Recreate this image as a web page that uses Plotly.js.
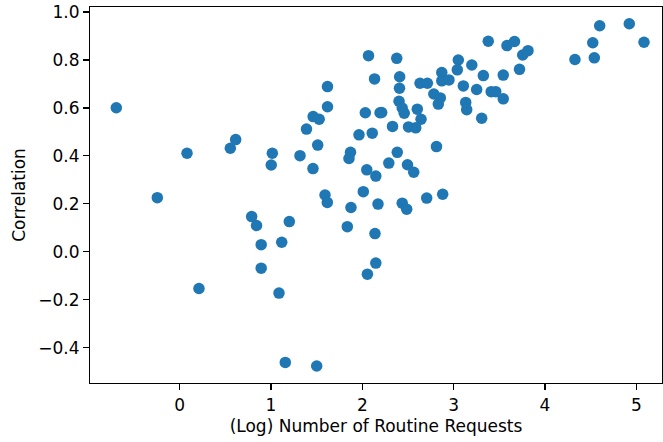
<!DOCTYPE html>
<html>
<head>
<meta charset="utf-8">
<script src="https://cdn.plot.ly/plotly-3.0.1.min.js"></script>
<style>html,body{margin:0;padding:0;background:#fff;}#chart{width:663px;height:442px;}</style>
</head>
<body>
<div id="chart"></div>
<script>
const logRequests = [
  -0.693, -0.244, 0.081, 0.212, 0.555, 0.614, 0.789, 0.842, 0.893, 0.893,
  1.015, 1.003, 1.088, 1.118, 1.157, 1.201, 1.318, 1.389, 1.462, 1.528,
  1.460, 1.512, 1.501, 1.592, 1.617, 1.619, 1.619,
  2.068, 2.134, 2.033, 2.194, 1.964, 2.109, 1.871, 1.854, 2.049, 2.148,
  2.011, 1.876, 2.172, 1.836, 2.139, 2.148, 2.056, 2.377, 2.409, 2.407,
  2.212, 2.331, 2.402, 2.437, 2.459, 2.602, 2.643, 2.506, 2.585, 2.632,
  2.712, 2.870, 2.870, 2.949, 3.051, 3.040, 3.199, 3.325, 3.379, 3.584,
  3.666, 3.756, 3.814, 3.721, 3.543, 3.106, 2.783, 2.854, 2.832, 3.252,
  3.411, 3.461, 3.543, 3.132, 3.143, 3.307, 2.812, 2.383, 2.290, 2.495,
  2.563, 2.437, 2.486, 2.705, 2.880,
  4.328, 4.540, 4.523, 4.599, 4.923, 5.084
];
const correlation = [
  0.601, 0.226, 0.411, -0.153, 0.432, 0.468, 0.147, 0.110, 0.030, -0.068,
  0.411, 0.362, -0.172, 0.040, -0.461, 0.126, 0.401, 0.512, 0.564, 0.553,
  0.347, 0.445, -0.476, 0.237, 0.206, 0.605, 0.689,
  0.818, 0.721, 0.580, 0.580, 0.488, 0.495, 0.415, 0.389, 0.342, 0.316,
  0.251, 0.185, 0.199, 0.105, 0.076, -0.047, -0.093, 0.807, 0.730, 0.682,
  0.581, 0.523, 0.628, 0.600, 0.578, 0.595, 0.553, 0.521, 0.517, 0.703,
  0.703, 0.748, 0.713, 0.717, 0.800, 0.759, 0.779, 0.735, 0.878, 0.860,
  0.877, 0.821, 0.839, 0.761, 0.737, 0.692, 0.658, 0.642, 0.616, 0.677,
  0.668, 0.668, 0.638, 0.623, 0.593, 0.557, 0.439, 0.415, 0.370, 0.363,
  0.332, 0.203, 0.178, 0.224, 0.240,
  0.802, 0.809, 0.872, 0.943, 0.951, 0.874
];
const xTickVals = [0, 1, 2, 3, 4, 5];
const yTickVals = [-0.4, -0.2, 0.0, 0.2, 0.4, 0.6, 0.8, 1.0];

const font = {family: 'DejaVu Sans, sans-serif', size: 17, color: '#000'};

Plotly.newPlot('chart', [{
  type: 'scatter',
  mode: 'markers',
  x: logRequests,
  y: correlation,
  marker: {color: '#1f77b4', size: 11.5, line: {width: 0}},
  hoverinfo: 'x+y'
}], {
  width: 663, height: 442,
  margin: {l: 90, r: 1, t: 7, b: 59},
  paper_bgcolor: '#fff', plot_bgcolor: '#fff',
  font: font,
  showlegend: false,
  xaxis: {
    range: [-0.981, 5.281],
    tickvals: xTickVals,
    ticktext: xTickVals.map(String),
    ticks: 'outside', ticklen: 6, tickwidth: 1.1, tickcolor: '#000',
    showline: true, linecolor: '#000', linewidth: 1.1, mirror: true,
    showgrid: false, zeroline: false,
    tickfont: font,
    title: {text: '(Log) Number of Routine Requests', font: font, standoff: 6}
  },
  yaxis: {
    range: [-0.547, 1.021],
    tickvals: yTickVals,
    ticktext: yTickVals.map(v => v.toFixed(1).replace('-', '\u2212')),
    ticks: 'outside', ticklen: 6, tickwidth: 1.1, tickcolor: '#000',
    showline: true, linecolor: '#000', linewidth: 1.1, mirror: true,
    showgrid: false, zeroline: false,
    tickfont: font,
    title: {text: 'Correlation', font: font, standoff: 8}
  }
}, {displayModeBar: false, staticPlot: true});
</script>
</body>
</html>
